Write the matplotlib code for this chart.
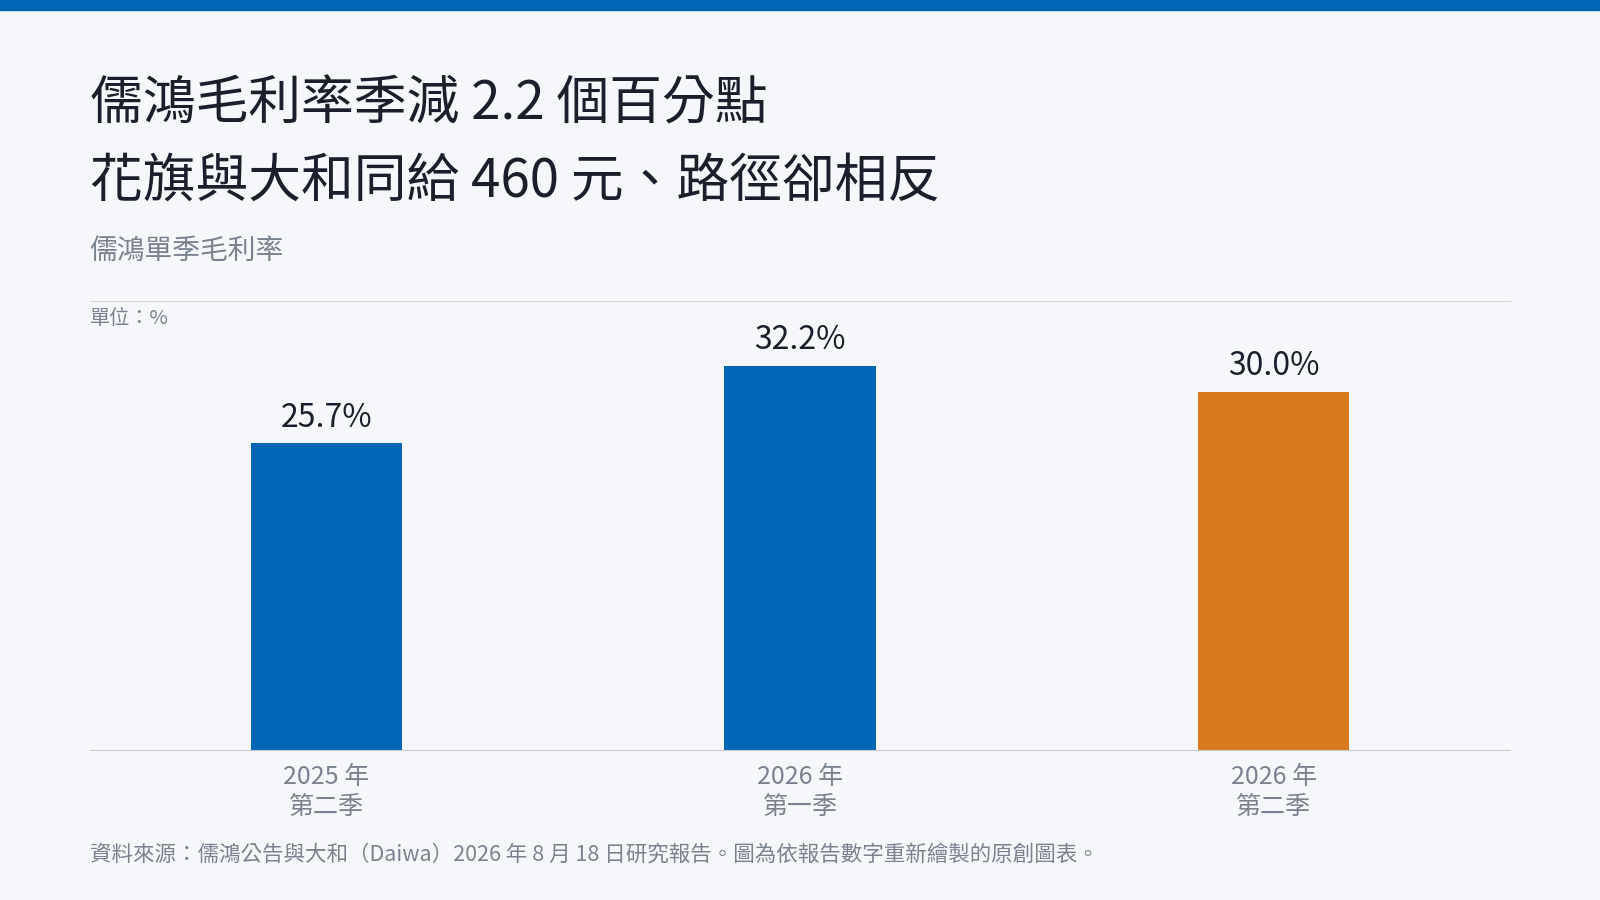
import matplotlib
matplotlib.use("Agg")
import matplotlib.pyplot as plt
from matplotlib.patches import Rectangle

plt.rcParams['font.family'] = ['Noto Sans CJK TC', 'DejaVu Sans']

categories = ["2025 年\n第二季", "2026 年\n第一季", "2026 年\n第二季"]
values = [25.7, 32.2, 30.0]
colors = ["#0066b3", "#0066b3", "#d97a1f"]

bg = "#f5f7fa"
fig = plt.figure(figsize=(16, 9), dpi=100, facecolor=bg)

# top bar
fig.add_artist(Rectangle((0, 1 - 10 / 882), 1, 10 / 882, transform=fig.transFigure,
                         color="#0066b3", zorder=5))

fig.text(0.056, 1 - 102 / 882, "儒鴻毛利率季減 2.2 個百分點", fontsize=38, fontweight="medium",
         color="#1a1f2b", va="center")
fig.text(0.056, 1 - 178 / 882, "花旗與大和同給 460 元、路徑卻相反", fontsize=38, fontweight="medium",
         color="#1a1f2b", va="center")
fig.text(0.056, 1 - 246 / 882, "儒鴻單季毛利率", fontsize=20, color="#7a8290", va="center")
fig.text(0.056, 1 - 312 / 882, "單位：%", fontsize=14.5, color="#7a8290", va="center")
fig.text(0.056, 1 - 838 / 882,
         "資料來源：儒鴻公告與大和（Daiwa）2026 年 8 月 18 日研究報告。圖為依報告數字重新繪製的原創圖表。",
         fontsize=15.5, color="#7a8290", va="center")

ax = fig.add_axes([0.056, 1 - 735 / 882, 0.888, 440 / 882])
ax.set_facecolor(bg)
x = range(len(values))
ax.bar(x, values, width=0.32, color=colors)
for i, v in enumerate(values):
    ax.text(i, v + 0.8, f"{v:.1f}%", ha="center", va="bottom", fontsize=23, color="#1a1f2b")
ax.set_xlim(-0.5, 2.5)
ax.set_ylim(0, 37.6)
ax.set_yticks([])
ax.set_xticks(list(x))
ax.set_xticklabels(categories, fontsize=18, color="#7a8290", linespacing=1.2)
ax.tick_params(axis="x", length=0, pad=10)
for s in ["left", "right"]:
    ax.spines[s].set_visible(False)
ax.spines["top"].set_color("#d5d9df")
ax.spines["bottom"].set_color("#c8ccd2")

fig.savefig("out.png", dpi=100, facecolor=bg)
